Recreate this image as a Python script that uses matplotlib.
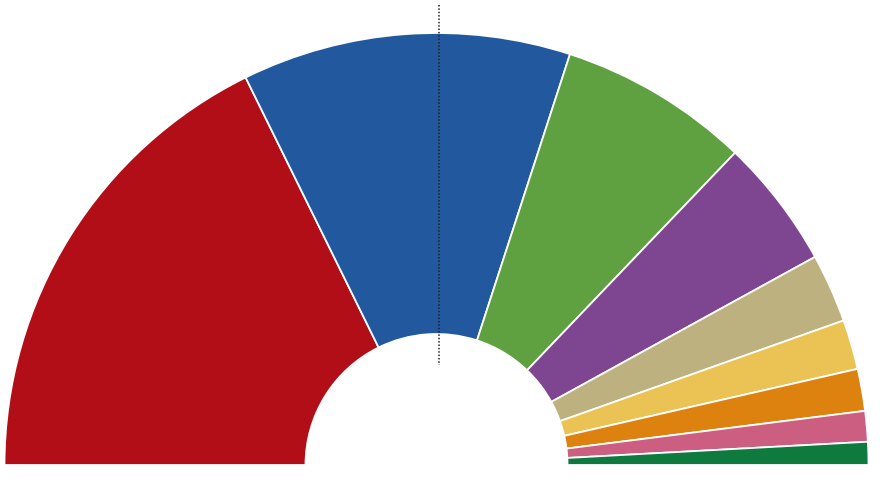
import matplotlib
matplotlib.use("Agg")
import matplotlib.pyplot as plt

parties = ["Red", "Blue", "Green", "Purple", "Tan", "Yellow", "Orange", "Pink", "Dark green"]
seats = [124, 86, 50, 34, 18, 13, 11, 8, 6]
colors = ["#B20E17", "#22599E", "#5FA041", "#7E4690", "#BDB27F",
          "#EBC254", "#DD820E", "#CC5E82", "#0E7A3E"]

W, H = 880, 495
fig = plt.figure(figsize=(W / 100, H / 100), dpi=100)
ax = fig.add_axes([0, 0, 1, 1])
ax.set_xlim(0, W)
ax.set_ylim(0, H)
ax.axis("off")

cx, cy = 436.5, 30
R, r = 432, 131

total = sum(seats)
vals = seats + [total]
cols = colors + ["none"]
wedges, _ = ax.pie(vals, colors=cols, startangle=180, counterclock=False,
                   radius=R, center=(cx, cy), frame=True,
                   wedgeprops=dict(width=R - r, edgecolor="white", linewidth=1.3))
wedges[-1].set_visible(False)
ax.set_xlim(0, W)
ax.set_ylim(0, H)
ax.set_aspect("equal")
ax.axis("off")

# majority line
ax.plot([439, 439], [H - 5, H - 365], color="#222222", linestyle=(0, (1, 1.2)),
        linewidth=1.1)

fig.savefig("out.png", dpi=100)
